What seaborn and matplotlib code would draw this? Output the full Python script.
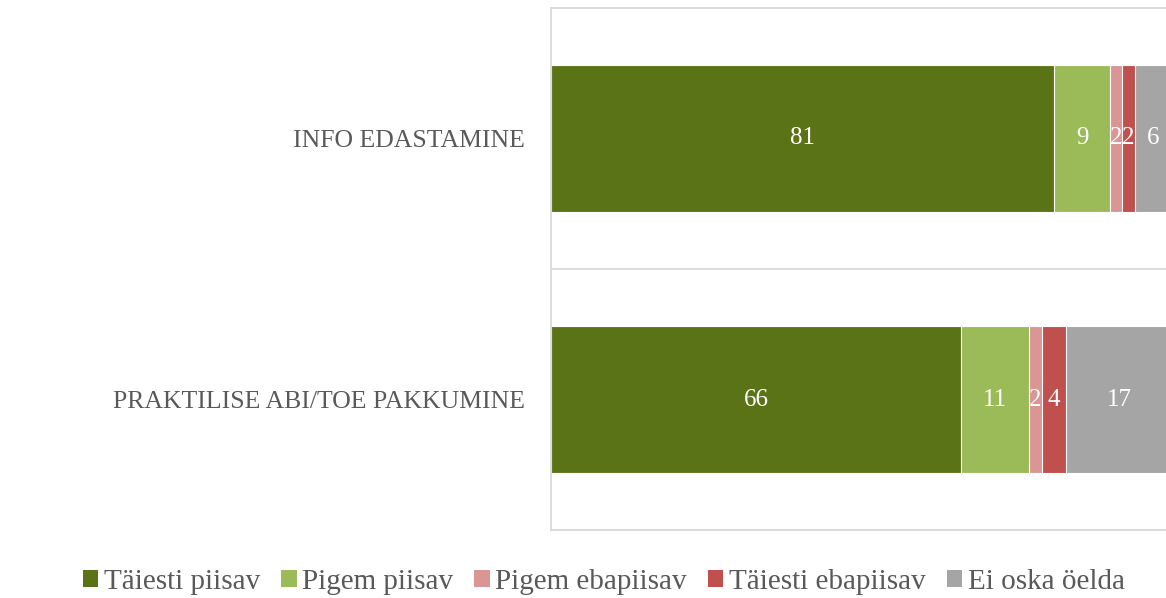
import numpy as np
import pandas as pd
import matplotlib
matplotlib.use("Agg")
import matplotlib.pyplot as plt
from matplotlib.patches import Patch
import seaborn as sns

# Data (percent)
categories = ["INFO EDASTAMINE", "PRAKTILISE ABI/TOE PAKKUMINE"]
series = ["Täiesti piisav", "Pigem piisav", "Pigem ebapiisav", "Täiesti ebapiisav", "Ei oska öelda"]
taiesti_piisav = [81, 66]
pigem_piisav = [9, 11]
pigem_ebapiisav = [2, 2]
taiesti_ebapiisav = [2, 4]
ei_oska = [6, 17]

colors = ["#5B7317", "#9BBB59", "#D99694", "#C0504D", "#A5A5A5"]

sns.set_theme(style="white")
plt.rcParams["font.family"] = ["Liberation Serif", "DejaVu Serif"]

values = np.array([taiesti_piisav, pigem_piisav, pigem_ebapiisav, taiesti_ebapiisav, ei_oska])
cum = values.cumsum(axis=0)

fig = plt.figure(figsize=(11.66, 5.98), dpi=100)
ax = fig.add_axes([551 / 1166, 1 - 530 / 598, 621 / 1166, 522 / 598])

# stacked bars: draw cumulative totals from the back to the front
for i in range(len(series) - 1, -1, -1):
    df = pd.DataFrame({"cat": categories, "val": cum[i]})
    sns.barplot(data=df, x="val", y="cat", orient="h", color=colors[i],
                width=0.56, edgecolor="white", linewidth=0.8, ax=ax, saturation=1)

# data labels
for i in range(len(series)):
    for j in range(len(categories)):
        ax.text(cum[i, j] - values[i, j] / 2, j, str(values[i, j]),
                ha="center", va="center", color="white", fontsize=18)

ax.set_xlim(0, 100)
ax.set_ylim(1.5, -0.5)
ax.set_xlabel("")
ax.set_ylabel("")
ax.set_xticks([])
ax.axhline(0.5, color="#D9D9D9", linewidth=1.3, zorder=0)
for s in ["left", "top", "bottom", "right"]:
    ax.spines[s].set_color("#D9D9D9")
    ax.spines[s].set_linewidth(1.3)
ax.tick_params(axis="y", length=0, pad=19, labelsize=18.5, labelcolor="#595959")

handles = [Patch(facecolor=c, edgecolor="none") for c in colors]
fig.legend(handles, series, loc="center", bbox_to_anchor=(604 / 1166, 1 - 582 / 598),
           ncol=5, frameon=False, fontsize=21, handlelength=0.52, handleheight=0.52,
           handletextpad=0.2, columnspacing=0.72, labelcolor="#595959")

fig.savefig("out.png", dpi=100)
